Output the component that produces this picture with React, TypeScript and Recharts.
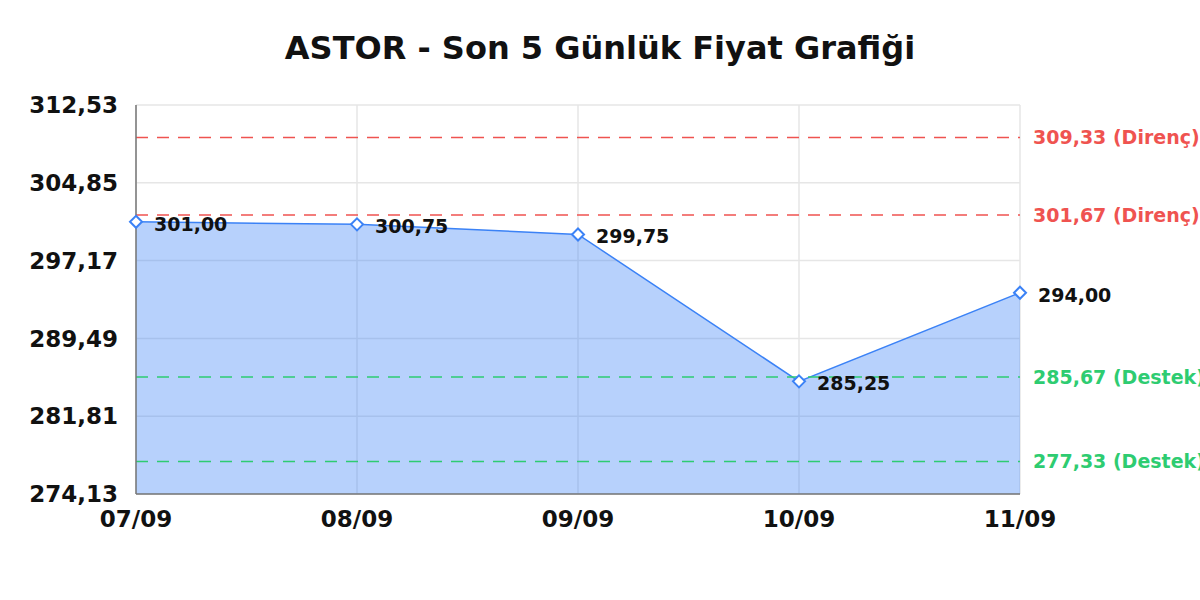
import React from "react";
import {
  AreaChart,
  Area,
  XAxis,
  YAxis,
  CartesianGrid,
  ReferenceLine,
  LabelList,
} from "recharts";

const titleText = "ASTOR - Son 5 Günlük Fiyat Grafiği";
const dates = ["07/09", "08/09", "09/09", "10/09", "11/09"];
const prices = [301.0, 300.75, 299.75, 285.25, 294.0];
const yTicks = [274.13, 281.81, 289.49, 297.17, 304.85, 312.53];
const resistanceLevels = [309.33, 301.67];
const supportLevels = [285.67, 277.33];

const data = dates.map((d, i) => ({ date: d, price: prices[i] }));

const FONT = "'DejaVu Sans', sans-serif";
const fmt = (v: number) => v.toFixed(2).replace(".", ",");

const Diamond = (props: any) => {
  const { cx, cy } = props;
  if (cx == null || cy == null) return null;
  const r = 6;
  return (
    <polygon
      points={`${cx},${cy - r} ${cx + r},${cy} ${cx},${cy + r} ${cx - r},${cy}`}
      fill="#ffffff"
      stroke="#3b82f6"
      strokeWidth={2}
    />
  );
};

const PriceLabel = (props: any) => {
  const { x, y, value } = props;
  return (
    <text
      x={x + 18}
      y={y + 2}
      dominantBaseline="central"
      fontFamily={FONT}
      fontWeight="bold"
      fontSize={19}
      fill="#111111"
    >
      {fmt(value)}
    </text>
  );
};

export default function App() {
  return (
    <div
      style={{
        position: "absolute",
        left: 0,
        top: 0,
        width: 1200,
        height: 600,
        overflow: "hidden",
        background: "#ffffff",
      }}
    >
      <svg
        width={1200}
        height={90}
        style={{ position: "absolute", left: 0, top: 0 }}
      >
        <text
          x={600}
          y={59}
          textAnchor="middle"
          fontFamily={FONT}
          fontWeight="bold"
          fontSize={32}
          fill="#111111"
        >
          {titleText}
        </text>
      </svg>
      <div style={{ position: "absolute", left: 0, top: 0 }}>
        <AreaChart
          width={1200}
          height={600}
          data={data}
          margin={{ top: 105, right: 180, left: 0, bottom: 76 }}
        >
          <CartesianGrid stroke="#e6e6e6" strokeWidth={1.5} />
          <XAxis
            dataKey="date"
            height={30}
            tickLine={false}
            tickSize={0}
            tickMargin={17}
            axisLine={{ stroke: "#777777", strokeWidth: 1.5 }}
            tick={{
              fontFamily: FONT,
              fontWeight: "bold",
              fontSize: 23,
              fill: "#111111",
            }}
            interval={0}
          />
          <YAxis
            width={136}
            domain={[274.13, 312.53]}
            ticks={yTicks}
            tickFormatter={fmt}
            tickLine={false}
            tickSize={0}
            tickMargin={18}
            axisLine={{ stroke: "#777777", strokeWidth: 1.5 }}
            tick={{
              fontFamily: FONT,
              fontWeight: "bold",
              fontSize: 23,
              fill: "#111111",
            }}
            interval={0}
          />
          <Area
            type="linear"
            dataKey="price"
            stroke="#3b82f6"
            strokeWidth={1.5}
            fill="#3b82f6"
            fillOpacity={0.37}
            dot={<Diamond />}
            activeDot={false}
            isAnimationActive={false}
          >
            <LabelList dataKey="price" content={<PriceLabel />} />
          </Area>
          {resistanceLevels.map((v) => (
            <ReferenceLine
              key={`r${v}`}
              y={v}
              stroke="#ef5350"
              strokeWidth={1.5}
              strokeDasharray="12 9"
              label={{
                value: `${fmt(v)} (Direnç)`,
                position: "right",
                offset: 13,
                fill: "#ef5350",
                fontFamily: FONT,
                fontWeight: "bold",
                fontSize: 19,
              }}
            />
          ))}
          {supportLevels.map((v) => (
            <ReferenceLine
              key={`s${v}`}
              y={v}
              stroke="#2ecc71"
              strokeWidth={1.5}
              strokeDasharray="12 9"
              label={{
                value: `${fmt(v)} (Destek)`,
                position: "right",
                offset: 13,
                fill: "#2ecc71",
                fontFamily: FONT,
                fontWeight: "bold",
                fontSize: 19,
              }}
            />
          ))}
        </AreaChart>
      </div>
    </div>
  );
}
